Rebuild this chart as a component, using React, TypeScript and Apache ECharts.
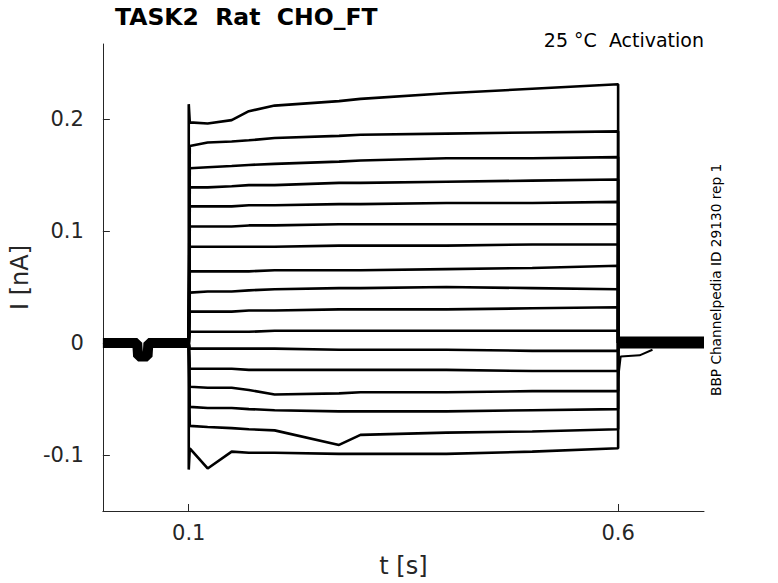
import React, { useEffect, useRef } from "react";
import * as echarts from "echarts";

// ---- data ----
const X_TICKS = [0.1, 0.6];
const Y_TICKS = [-0.1, 0, 0.1, 0.2];

// holding baseline before the step (overlapped sweeps)
const PRE_T = [0, 0.04, 0.041, 0.052, 0.053, 0.1];
const PRE_V = [0, 0, -0.012, -0.012, 0, 0];

// baseline after the step
const POST_T = [0.6, 0.7];
const POST_V = [0.0005, 0.0005];

// tail transient after the step
const TAIL_T = [0.6, 0.6, 0.603, 0.625, 0.64];
const TAIL_V = [0, -0.032, -0.012, -0.011, -0.006];

// sample times during the step (s)
const STEP_T = [0.1012, 0.122, 0.15, 0.17, 0.2, 0.275, 0.3, 0.4, 0.5, 0.6];

// current levels of each sweep (nA)
const T1 = [0.197, 0.196, 0.199, 0.207, 0.212, 0.216, 0.218, 0.223, 0.227, 0.231];
const T2 = [0.176, 0.179, 0.18, 0.181, 0.183, 0.185, 0.186, 0.187, 0.188, 0.189];
const T3 = [0.156, 0.157, 0.158, 0.159, 0.16, 0.162, 0.163, 0.165, 0.165, 0.166];
const T4 = [0.139, 0.139, 0.14, 0.141, 0.141, 0.143, 0.143, 0.144, 0.145, 0.146];
const T5 = [0.122, 0.122, 0.122, 0.123, 0.123, 0.124, 0.124, 0.125, 0.125, 0.126];
const T6 = [0.104, 0.104, 0.104, 0.105, 0.105, 0.106, 0.106, 0.106, 0.106, 0.106];
const T7 = [0.086, 0.086, 0.086, 0.086, 0.086, 0.087, 0.087, 0.087, 0.088, 0.088];
const T8 = [0.064, 0.064, 0.064, 0.064, 0.065, 0.065, 0.065, 0.066, 0.067, 0.069];
const T9 = [0.045, 0.046, 0.046, 0.047, 0.048, 0.049, 0.049, 0.05, 0.049, 0.048];
const T10 = [0.028, 0.028, 0.028, 0.029, 0.029, 0.03, 0.03, 0.03, 0.031, 0.032];
const T11 = [0.01, 0.01, 0.01, 0.01, 0.011, 0.011, 0.011, 0.011, 0.011, 0.011];
const T12 = [-0.005, -0.005, -0.005, -0.005, -0.005, -0.006, -0.006, -0.006, -0.007, -0.007];
const T13 = [-0.023, -0.023, -0.023, -0.024, -0.024, -0.024, -0.024, -0.024, -0.025, -0.025];
const T14 = [-0.039, -0.04, -0.04, -0.042, -0.046, -0.045, -0.044, -0.044, -0.043, -0.043];
const T15 = [-0.057, -0.058, -0.058, -0.059, -0.06, -0.061, -0.061, -0.061, -0.06, -0.059];
const T16 = [-0.074, -0.075, -0.076, -0.077, -0.078, -0.091, -0.082, -0.08, -0.079, -0.077];
const T17 = [-0.094, -0.112, -0.097, -0.098, -0.098, -0.099, -0.099, -0.099, -0.097, -0.094];

const TRACES = [T1, T2, T3, T4, T5, T6, T7, T8, T9, T10, T11, T12, T13, T14, T15, T16, T17];
// capacitive spike at the onset (first/last sweep only)
const ONSET_PEAK = [0.2133, null, null, null, null, null, null, null, null, null, null, null, null, null, null, null, -0.113];

const TITLE = "TASK2  Rat  CHO_FT";
const SUBTITLE = "25 °C  Activation";
const SIDE_NOTE = "BBP Channelpedia ID 29130 rep 1";

const FONT = "'DejaVu Sans', sans-serif";
const TXT = "#262626";

export default function App() {
  const ref = useRef<HTMLDivElement>(null);

  useEffect(() => {
    if (!ref.current) return;
    const chart = echarts.init(ref.current, null, { renderer: "svg" });

    const zip = (t: number[], v: number[]) => t.map((x, i) => [x, v[i]]);

    const traceSeries = TRACES.map((lv, i) => {
      const pk = ONSET_PEAK[i];
      const data: number[][] = [[0.1, 0]];
      if (pk !== null) data.push([0.1, pk as number]);
      STEP_T.forEach((t, j) => data.push([t, lv[j]]));
      data.push([0.6, 0]);
      return {
        type: "line",
        data,
        showSymbol: false,
        silent: true,
        lineStyle: { color: "#000", width: 2.6 },
      };
    });

    const option: any = {
      animation: false,
      grid: { left: 101, right: 74, top: 44, bottom: 71, containLabel: false },
      xAxis: {
        type: "value",
        min: 0,
        max: 0.7,
        name: "t [s]",
        nameLocation: "middle",
        nameGap: 43,
        nameTextStyle: { fontFamily: FONT, fontSize: 24, color: TXT },
        axisLine: { show: true, onZero: false, lineStyle: { color: TXT, width: 1 } },
        axisTick: { show: true, inside: true, length: 7, customValues: X_TICKS, lineStyle: { color: TXT } },
        axisLabel: {
          customValues: X_TICKS,
          formatter: (v: number) => String(v),
          fontFamily: FONT,
          fontSize: 21,
          color: TXT,
          margin: 11,
        },
        splitLine: { show: false },
      },
      yAxis: {
        type: "value",
        min: -0.15,
        max: 0.267,
        name: "I [nA]",
        nameLocation: "middle",
        nameGap: 62,
        nameTextStyle: { fontFamily: FONT, fontSize: 24, color: TXT },
        axisLine: { show: true, onZero: false, lineStyle: { color: TXT, width: 1 } },
        axisTick: { show: true, inside: true, length: 7, customValues: Y_TICKS, lineStyle: { color: TXT } },
        axisLabel: {
          customValues: Y_TICKS,
          formatter: (v: number) => String(v),
          fontFamily: FONT,
          fontSize: 21,
          color: TXT,
          margin: 19,
        },
        splitLine: { show: false },
      },
      graphic: [
        {
          type: "text",
          left: 115,
          top: 5,
          style: { text: TITLE, font: `bold 23.5px ${FONT}`, fill: "#000" },
        },
        {
          type: "text",
          right: 74,
          top: 30,
          style: { text: SUBTITLE, font: `19px ${FONT}`, fill: "#000" },
        },
        {
          type: "text",
          x: 709,
          y: 396,
          rotation: Math.PI / 2,
          style: { text: SIDE_NOTE, font: `13.7px ${FONT}`, fill: "#000", textAlign: "left", textVerticalAlign: "top" },
        },
      ],
      series: [
        {
          type: "line",
          data: zip(PRE_T, PRE_V),
          showSymbol: false,
          silent: true,
          lineStyle: { color: "#000", width: 10 },
        },
        {
          type: "line",
          data: zip(POST_T, POST_V),
          showSymbol: false,
          silent: true,
          lineStyle: { color: "#000", width: 12 },
        },
        {
          type: "line",
          data: zip(TAIL_T, TAIL_V),
          showSymbol: false,
          silent: true,
          lineStyle: { color: "#000", width: 2 },
        },
        ...traceSeries,
      ],
    };

    chart.setOption(option);
    return () => chart.dispose();
  }, []);

  return (
    <div
      ref={ref}
      style={{ position: "fixed", left: 0, top: 0, width: 778, height: 583, background: "#fff" }}
    />
  );
}
